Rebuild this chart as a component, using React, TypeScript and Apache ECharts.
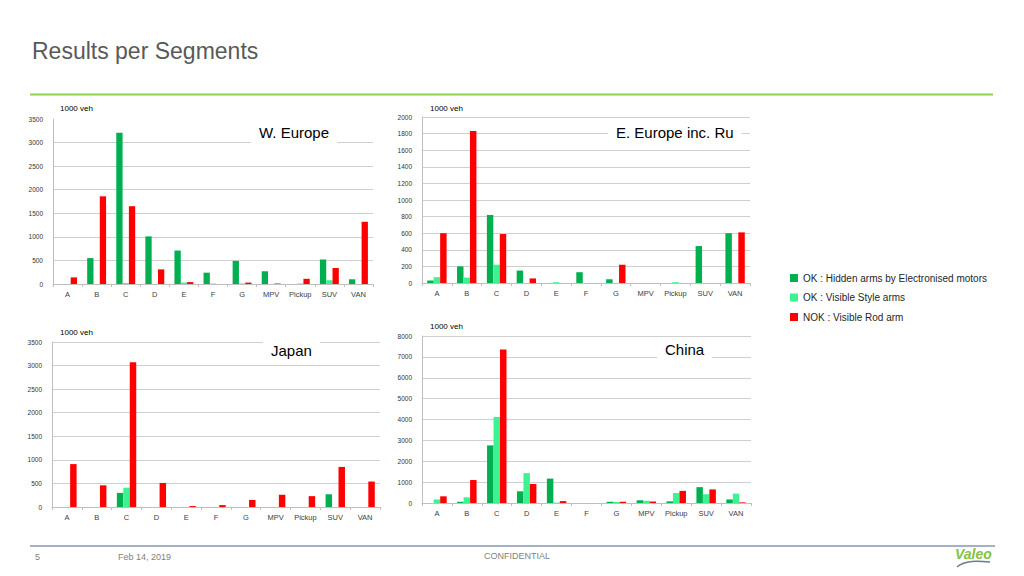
import React, { useEffect, useRef } from 'react';
import * as echarts from 'echarts';

const categories = ['A', 'B', 'C', 'D', 'E', 'F', 'G', 'MPV', 'Pickup', 'SUV', 'VAN'];
const seriesNames = [
  'OK : Hidden arms by Electronised motors',
  'OK : Visible Style arms',
  'NOK : Visible Rod arm',
];
const seriesColors = ['#00b050', '#3cf391', '#ff0000'];

// W. Europe (1000 veh)
const weHidden = [0, 550, 3210, 1010, 710, 240, 490, 270, 0, 520, 100];
const weVisible = [0, 0, 20, 0, 30, 10, 10, 0, 10, 80, 0];
const weNok = [140, 1860, 1650, 310, 40, 0, 30, 10, 110, 340, 1320];

// E. Europe inc. Ru (1000 veh)
const eeHidden = [30, 200, 820, 150, 0, 130, 45, 0, 0, 445, 600];
const eeVisible = [70, 65, 220, 0, 10, 0, 0, 0, 10, 0, 0];
const eeNok = [600, 1830, 590, 55, 0, 0, 220, 0, 0, 0, 610];

// Japan (1000 veh)
const jpHidden = [0, 0, 300, 0, 0, 0, 0, 0, 0, 270, 0];
const jpVisible = [0, 0, 410, 0, 0, 0, 0, 0, 0, 0, 0];
const jpNok = [910, 460, 3070, 510, 20, 40, 150, 260, 230, 850, 540];

// China (1000 veh)
const cnHidden = [0, 60, 2760, 560, 1170, 0, 60, 130, 80, 760, 170];
const cnVisible = [170, 270, 4120, 1430, 20, 0, 50, 110, 480, 420, 450];
const cnNok = [320, 1100, 7350, 910, 90, 0, 60, 70, 580, 650, 30];

const panelTitles = ['W. Europe', 'E. Europe inc. Ru', 'Japan', 'China'];
const panelData = [
  [weHidden, weVisible, weNok],
  [eeHidden, eeVisible, eeNok],
  [jpHidden, jpVisible, jpNok],
  [cnHidden, cnVisible, cnNok],
];
const axisMax = [3500, 2000, 3500, 8000];
const axisInterval = [500, 200, 500, 1000];
const unitLabel = '1000 veh';

// layout
const grids = [
  { left: 53, top: 119, width: 320, height: 165 },
  { left: 422, top: 117, width: 328, height: 166 },
  { left: 52, top: 342, width: 328, height: 165 },
  { left: 422, top: 336, width: 329, height: 167 },
];
const titlePos = [
  { left: 251, top: 122 },
  { left: 608, top: 122 },
  { left: 263, top: 340 },
  { left: 657, top: 339 },
];
const unitPos = [
  { x: 60, y: 109 },
  { x: 430, y: 109 },
  { x: 60, y: 333 },
  { x: 430, y: 327 },
];

const FONT = '"Liberation Sans", Arial, sans-serif';

export default function App() {
  const ref = useRef<HTMLDivElement>(null);

  useEffect(() => {
    if (!ref.current) return;
    const chart = echarts.init(ref.current, undefined, { renderer: 'svg' });

    const xAxis: any[] = [];
    const yAxis: any[] = [];
    const series: any[] = [];
    const titles: any[] = [];

    grids.forEach((g, i) => {
      const lineCount = axisMax[i] / axisInterval[i] + 1;
      const splitColors: string[] = [];
      for (let k = 0; k < lineCount; k++) {
        splitColors.push(i === 0 && k === lineCount - 1 ? 'rgba(0,0,0,0)' : '#cfcfcf');
      }
      xAxis.push({
        type: 'category',
        gridIndex: i,
        data: categories,
        axisLine: { lineStyle: { color: '#bfbfbf', width: 1 } },
        axisTick: { show: true, length: 3, lineStyle: { color: '#bfbfbf' } },
        axisLabel: { fontSize: 7.5, color: '#404040', fontFamily: FONT, margin: 6, interval: 0 },
      });
      yAxis.push({
        type: 'value',
        gridIndex: i,
        min: 0,
        max: axisMax[i],
        interval: axisInterval[i],
        axisLine: { show: true, lineStyle: { color: '#bfbfbf', width: 1 } },
        axisTick: { show: false },
        axisLabel: {
          fontSize: 6.5,
          color: '#333333',
          fontFamily: FONT,
          margin: 10,
          formatter: (v: number) => String(v),
        },
        splitLine: { lineStyle: { color: splitColors, width: 1 } },
      });
      panelData[i].forEach((vals, s) => {
        series.push({
          type: 'bar',
          name: seriesNames[s],
          xAxisIndex: i,
          yAxisIndex: i,
          data: vals,
          itemStyle: { color: seriesColors[s] },
          barGap: '0%',
          barCategoryGap: '35%',
        });
      });
      titles.push({
        text: panelTitles[i],
        left: titlePos[i].left,
        top: titlePos[i].top,
        backgroundColor: '#ffffff',
        padding: [3, 8, 3, 8],
        textStyle: { fontSize: 15, fontWeight: 'normal', color: '#000', fontFamily: FONT },
      });
    });

    const graphics: any[] = [
      {
        type: 'text',
        left: 32,
        top: 39,
        style: { text: 'Results per Segments', fontSize: 23, fill: '#595959', fontFamily: FONT },
      },
      {
        type: 'line',
        shape: { x1: 30, y1: 94.5, x2: 993, y2: 94.5 },
        style: { stroke: '#92d050', lineWidth: 2 },
      },
      {
        type: 'line',
        shape: { x1: 30, y1: 546, x2: 995, y2: 546 },
        style: { stroke: '#8497b0', lineWidth: 1.5 },
      },
      {
        type: 'text',
        left: 35,
        top: 552,
        style: { text: '5', fontSize: 9, fill: '#7f7f7f', fontFamily: FONT },
      },
      {
        type: 'text',
        left: 118,
        top: 552,
        style: { text: 'Feb 14, 2019', fontSize: 9, fill: '#7f7f7f', fontFamily: FONT },
      },
      {
        type: 'text',
        left: 484,
        top: 551,
        style: { text: 'CONFIDENTIAL', fontSize: 9, fill: '#7f7f7f', fontFamily: FONT },
      },
      {
        type: 'text',
        left: 955,
        top: 547,
        style: {
          text: 'Valeo',
          fontSize: 14,
          fontWeight: 'bold',
          fontStyle: 'italic',
          fill: '#82c341',
          fontFamily: FONT,
        },
      },
      {
        type: 'bezierCurve',
        shape: { x1: 957, y1: 567, x2: 990, y2: 562, cpx1: 965, cpy1: 560, cpx2: 978, cpy2: 561 },
        style: { stroke: '#6d7b8a', lineWidth: 1.5, fill: 'none' },
      },
    ];
    unitPos.forEach((p) => {
      graphics.push({
        type: 'text',
        left: p.x,
        top: p.y - 5,
        style: { text: unitLabel, fontSize: 8, fill: '#000', fontFamily: FONT },
      });
    });

    chart.setOption({
      animation: false,
      backgroundColor: '#ffffff',
      title: titles,
      legend: {
        data: seriesNames,
        orient: 'vertical',
        left: 785,
        top: 268,
        itemWidth: 8,
        itemHeight: 8,
        itemGap: 9.5,
        icon: 'rect',
        selectedMode: false,
        textStyle: { fontSize: 10, color: '#262626', fontFamily: FONT },
      },
      grid: grids.map((g) => ({ ...g })),
      xAxis,
      yAxis,
      series,
      graphic: graphics,
    });

    return () => chart.dispose();
  }, []);

  return (
    <div
      ref={ref}
      style={{ position: 'fixed', left: 0, top: 0, width: 1024, height: 576, background: '#fff' }}
    />
  );
}
